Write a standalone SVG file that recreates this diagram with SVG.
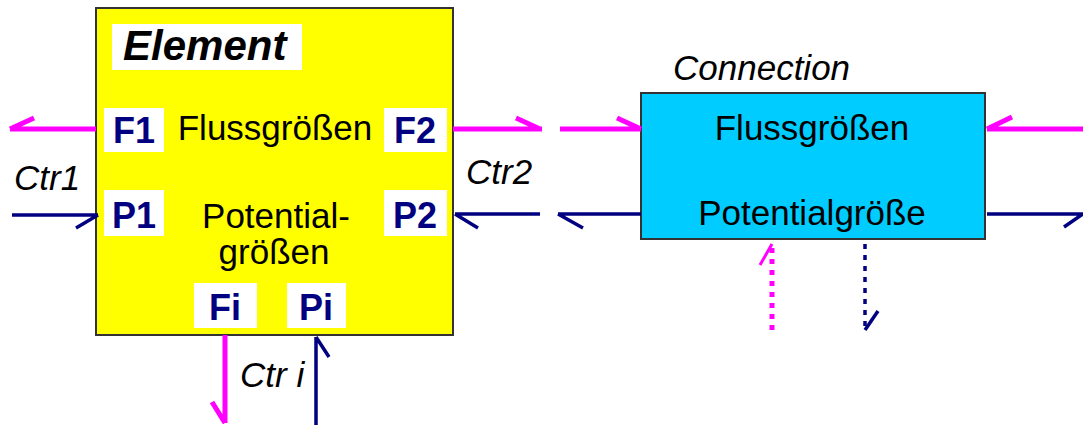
<svg xmlns="http://www.w3.org/2000/svg" width="1083" height="425" viewBox="0 0 1083 425">
<style>
.t{font-family:"Liberation Sans",Arial,sans-serif;font-size:35px;fill:#000}
.it{font-style:italic}
.port{font-family:"Liberation Sans",Arial,sans-serif;font-size:36px;font-weight:bold;fill:#000080}
.wb{fill:#fff}
.mg{stroke:#ff00ff;stroke-width:5;fill:none}
.nv{stroke:#000080;stroke-width:3.5;fill:none}
.mgd{stroke:#ff00ff;stroke-width:5;fill:none;stroke-dasharray:5 6}
.nvd{stroke:#000080;stroke-width:3.5;fill:none;stroke-dasharray:5 6}
</style>
<rect width="1083" height="425" fill="#fff"/>
<g id="element">
<rect x="96" y="8" width="357" height="327" fill="#ffff00" stroke="#333" stroke-width="2"/>
<rect class="wb" x="112" y="24" width="190" height="46"/>
<text class="t it" x="123" y="60" style="font-weight:bold;font-size:42px">Element</text>
<text class="t" x="275" y="140" text-anchor="middle">Flussgrößen</text>
<text class="t" x="276" y="228" text-anchor="middle">Potential-</text>
<text class="t" x="274" y="264" text-anchor="middle">größen</text>
<g id="portF1"><rect class="wb" x="104" y="108" width="60" height="44"/><text class="port" x="134" y="143" text-anchor="middle">F1</text></g>
<g id="portP1"><rect class="wb" x="104" y="190" width="60" height="46"/><text class="port" x="134" y="228" text-anchor="middle">P1</text></g>
<g id="portF2"><rect class="wb" x="384" y="108" width="63" height="44"/><text class="port" x="415" y="143" text-anchor="middle">F2</text></g>
<g id="portP2"><rect class="wb" x="384" y="190" width="63" height="46"/><text class="port" x="415" y="228" text-anchor="middle">P2</text></g>
<g id="portFi"><rect class="wb" x="194" y="283" width="63" height="45"/><text class="port" x="225" y="320" text-anchor="middle">Fi</text></g>
<g id="portPi"><rect class="wb" x="287" y="283" width="59" height="45"/><text class="port" x="316" y="320" text-anchor="middle">Pi</text></g>
</g>
<g id="connection">
<text class="t it" x="673" y="80">Connection</text>
<rect x="641" y="93" width="344" height="146" fill="#00ccff" stroke="#333" stroke-width="2"/>
<text class="t" x="812" y="140" text-anchor="middle">Flussgrößen</text>
<text class="t" x="812" y="225" text-anchor="middle">Potentialgröße</text>
</g>
<g id="labels">
<text class="t it" x="14" y="190">Ctr1</text>
<text class="t it" x="466" y="184">Ctr2</text>
<text class="t it" x="240" y="387">Ctr i</text>
</g>
<g id="connectors">
<path class="mg" d="M96 129H10M10 129L34 118"/>
<path class="nv" d="M12 215H98M98 215L76 228"/>
<path class="mg" d="M453 129H542M540 129L516 118"/>
<path class="nv" d="M540 214H455M455 214L478 228"/>
<path class="mg" d="M560 129H641M641 129L617 118"/>
<path class="nv" d="M641 214H558M558 214L583 228"/>
<path class="mg" d="M1083 129H987M987 129L1012 117"/>
<path class="nv" d="M987 214H1083M1083 214L1064 227"/>
<path class="mg" d="M225 335V423M225 423L212 402"/>
<path class="nv" d="M316 425V337M316 337L329 357"/>
<path class="mgd" d="M772 330V245"/>
<path class="mg" d="M772 244L760 265" style="stroke-width:3"/>
<path class="nvd" d="M865 244V330"/>
<path class="nv" d="M865 330L878 311"/>
</g>
</svg>
